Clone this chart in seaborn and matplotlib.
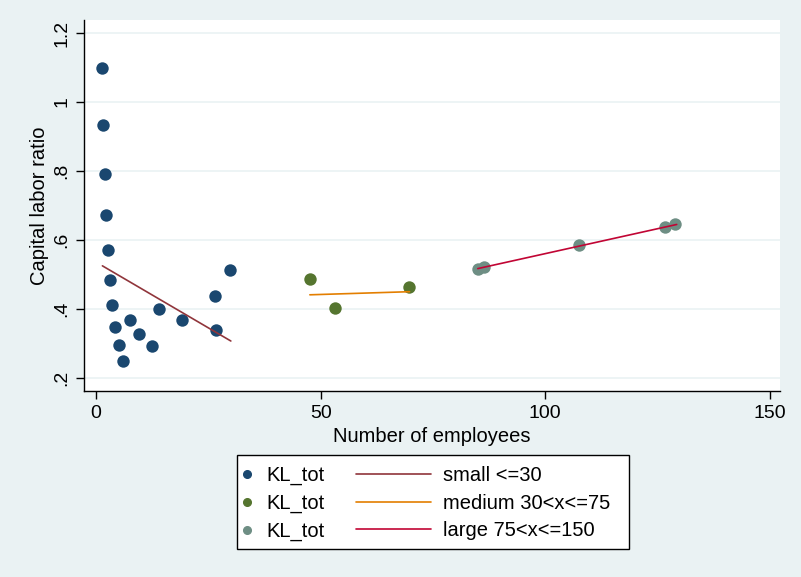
import numpy as np
import pandas as pd
import matplotlib
matplotlib.use("Agg")
import matplotlib.pyplot as plt
from matplotlib.lines import Line2D
from matplotlib.patches import Rectangle
import seaborn as sns

# firm size groups: employees vs capital labor ratio
small_emp = [1.4, 1.6, 1.9, 2.3, 2.7, 3.1, 3.6, 4.3, 5.0, 5.9, 7.5, 9.6, 12.5, 14.1, 19.2, 26.5, 26.7, 29.9]
small_kl = [1.10, 0.933, 0.791, 0.672, 0.570, 0.484, 0.410, 0.348, 0.295, 0.249, 0.367, 0.328, 0.292, 0.401, 0.367, 0.438, 0.340, 0.514]
medium_emp = [47.6, 53.1, 69.6]
medium_kl = [0.488, 0.404, 0.465]
large_emp = [85.0, 86.3, 107.6, 126.6, 128.9]
large_kl = [0.517, 0.521, 0.586, 0.639, 0.645]

# fitted lines (endpoints)
small_fit_x = [1.4, 30.0]
small_fit_y = [0.525, 0.307]
medium_fit_x = [47.6, 69.8]
medium_fit_y = [0.441, 0.450]
large_fit_x = [85.0, 129.3]
large_fit_y = [0.517, 0.645]

fit_labels = ["small <=30", "medium 30<x<=75", "large 75<x<=150"]
yticks = [0.2, 0.4, 0.6, 0.8, 1.0, 1.2]
ytick_labels = [".2", ".4", ".6", ".8", "1", "1.2"]
xticks = [0, 50, 100, 150]

navy = "#1a476f"
green = "#55752f"
teal = "#6e8e84"
maroon = "#90353b"
orange = "#e37e00"
cranberry = "#c10534"
bg = "#eaf2f3"

sns.set_style("white")
plt.rcParams["font.family"] = ["Liberation Sans", "DejaVu Sans"]
plt.rcParams["text.color"] = "black"
plt.rcParams["axes.labelcolor"] = "black"
plt.rcParams["xtick.color"] = "black"
plt.rcParams["ytick.color"] = "black"

W, H = 801, 577
fig = plt.figure(figsize=(W / 100, H / 100), dpi=100, facecolor=bg)
ax = fig.add_axes([84 / W, 1 - 391 / H, 696 / W, 371 / H])
ax.set_facecolor("white")

dot_colors = [navy, green, teal]
for ex, ky, col in zip([small_emp, medium_emp, large_emp], [small_kl, medium_kl, large_kl], dot_colors):
    d = pd.DataFrame({"emp": ex, "kl": ky})
    sns.scatterplot(data=d, x="emp", y="kl", color=col, s=80, linewidth=0, ax=ax, zorder=3, legend=False)

line_colors = [maroon, orange, cranberry]
for fx, fy, col in zip([small_fit_x, medium_fit_x, large_fit_x], [small_fit_y, medium_fit_y, large_fit_y], line_colors):
    d = pd.DataFrame({"emp": fx, "kl": fy})
    sns.lineplot(data=d, x="emp", y="kl", color=col, lw=1.2, ax=ax, zorder=4, legend=False)

ax.set_xlim(-2.7, 152.3)
ax.set_ylim(0.162, 1.238)
ax.set_xticks(xticks)
ax.set_yticks(yticks)
ax.set_yticklabels(ytick_labels, rotation=90, va="center")
ax.tick_params(axis="both", direction="out", length=6, width=1, color="black", labelsize=14, pad=4,
               bottom=True, left=True)
ax.grid(axis="y", color=bg, lw=1.2)
ax.grid(axis="x", visible=False)
for side in ["top", "right"]:
    ax.spines[side].set_visible(False)
for side in ["left", "bottom"]:
    ax.spines[side].set_color("black")
    ax.spines[side].set_linewidth(1)
ax.set_xlabel("Number of employees", fontsize=14.5, labelpad=4)
ax.set_ylabel("Capital labor ratio", fontsize=14.5, labelpad=3)

# legend box: markers column and fitted lines column
fig.patches.append(Rectangle((237 / W, 1 - 549 / H), 392 / W, 94 / H, transform=fig.transFigure,
                             facecolor="white", edgecolor="black", lw=1, zorder=1))
dot_handles = [Line2D([], [], marker="o", ls="none", ms=5.5, color=c) for c in dot_colors]
line_handles = [Line2D([], [], color=c, lw=1.2) for c in line_colors]
common = dict(loc="upper left", frameon=False, fontsize=14.5, borderpad=0, borderaxespad=0,
              labelspacing=0.43)
leg1 = fig.legend(dot_handles, ["KL_tot"] * 3, bbox_to_anchor=(237 / W, 1 - 466 / H),
                  handlelength=1.0, handletextpad=0.45, **common)
leg2 = fig.legend(line_handles, fit_labels, bbox_to_anchor=(356 / W, 1 - 466 / H),
                  handlelength=3.7, handletextpad=0.6, **common)

fig.savefig("out.png", dpi=100, facecolor=bg)
